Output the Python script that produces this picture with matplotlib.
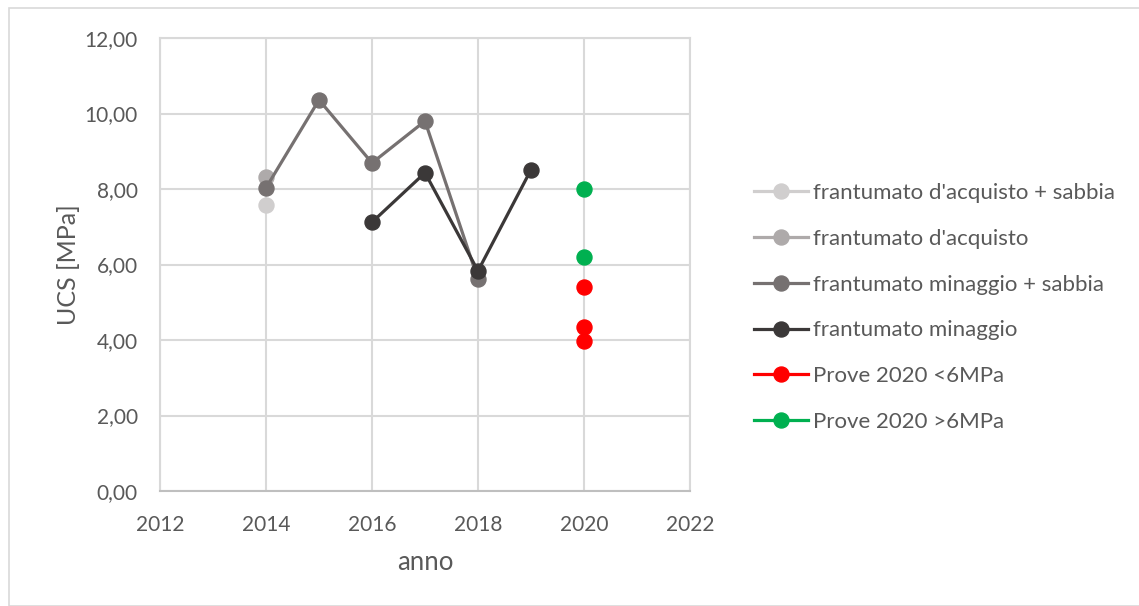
import matplotlib
matplotlib.use("Agg")
import matplotlib.pyplot as plt
from matplotlib.lines import Line2D
from matplotlib.patches import Rectangle
from matplotlib.ticker import FuncFormatter, MultipleLocator

plt.rcParams['font.family'] = ['Lato', 'DejaVu Sans']

# UCS values by year
acq_sabbia_years = [2014]
acq_sabbia_ucs = [7.58]

acq_years = [2014]
acq_ucs = [8.33]

min_sabbia_years = [2014, 2015, 2016, 2017, 2018]
min_sabbia_ucs = [8.03, 10.36, 8.69, 9.80, 5.61]

min_years = [2016, 2017, 2018, 2019]
min_ucs = [7.12, 8.43, 5.83, 8.51]

low_years = [2020, 2020, 2020]
low_ucs = [5.41, 4.35, 3.97]

high_years = [2020, 2020]
high_ucs = [8.00, 6.19]

labels = [
    "frantumato d'acquisto + sabbia",
    "frantumato d'acquisto",
    "frantumato minaggio + sabbia",
    "frantumato minaggio",
    "Prove 2020 <6MPa",
    "Prove 2020 >6MPa",
]
colors = ["#d0cece", "#aeaaaa", "#767171", "#3b3838", "#ff0000", "#00b050"]

text_color = "#595959"
grid_color = "#d9d9d9"
ms = 10.8
lw = 2.3

fig = plt.figure(figsize=(11.39, 6.06), dpi=100)
fig.patches.append(Rectangle((9 / 1139, 0.0), 1.0, 1 - 8 / 606, transform=fig.transFigure,
                             fill=False, edgecolor=grid_color, linewidth=1.2))

ax = fig.add_axes([160 / 1139, 1 - 491 / 606, 530 / 1139, 453 / 606])

ax.plot(acq_sabbia_years, acq_sabbia_ucs, '-o', color=colors[0], ms=ms, lw=lw, zorder=3)
ax.plot(acq_years, acq_ucs, '-o', color=colors[1], ms=ms, lw=lw, zorder=3)
ax.plot(min_sabbia_years, min_sabbia_ucs, '-o', color=colors[2], ms=ms, lw=lw, zorder=4)
ax.plot(min_years, min_ucs, '-o', color=colors[3], ms=ms, lw=lw, zorder=5)
ax.plot(low_years, low_ucs, 'o', color=colors[4], ms=ms, zorder=3)
ax.plot(high_years, high_ucs, 'o', color=colors[5], ms=ms, zorder=3)

ax.set_xlim(2012, 2022)
ax.set_ylim(0, 12)
ax.xaxis.set_major_locator(MultipleLocator(2))
ax.yaxis.set_major_locator(MultipleLocator(2))
ax.yaxis.set_major_formatter(FuncFormatter(lambda v, p: f"{v:.2f}".replace('.', ',')))
ax.grid(True, color=grid_color, linewidth=1.5, zorder=0)
ax.set_axisbelow(True)
for s in ax.spines.values():
    s.set_color(grid_color)
    s.set_linewidth(1.5)
ax.spines['bottom'].set_color("#bfbfbf")
ax.tick_params(length=0, labelsize=15, colors=text_color)
ax.tick_params(axis='y', pad=16)
ax.tick_params(axis='x', pad=17)

ax.set_xlabel("anno", fontsize=18.5, color=text_color, labelpad=11)
ax.set_ylabel("UCS [MPa]", fontsize=18, color=text_color, labelpad=3)

handles = [Line2D([], [], color=c, lw=lw, marker='o', ms=ms) for c in colors]
fig.legend(handles, labels, loc='center left', bbox_to_anchor=(754 / 1139, 1 - 307.5 / 606),
           frameon=False, fontsize=16, labelcolor=text_color, handlelength=2.43,
           handletextpad=0.23, labelspacing=1.16, borderpad=0, borderaxespad=0)

fig.savefig("out.png", dpi=100)
